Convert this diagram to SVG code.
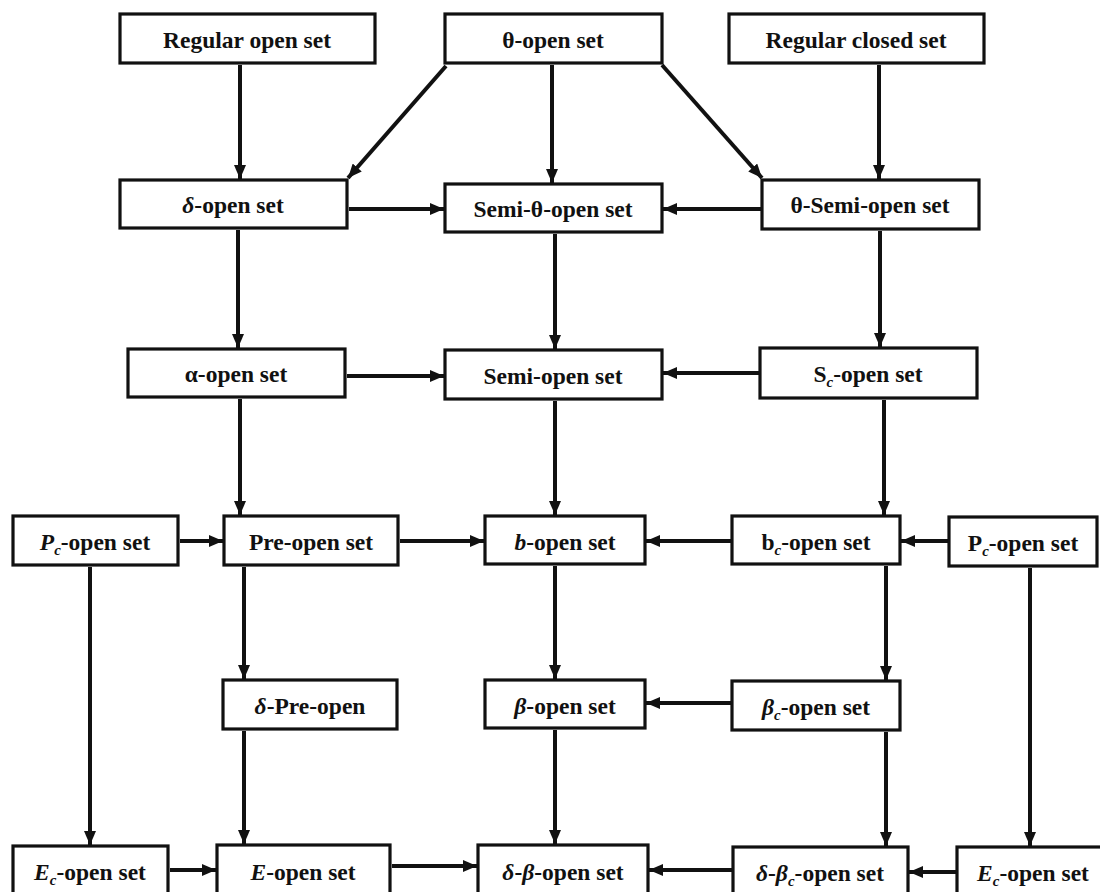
<svg xmlns="http://www.w3.org/2000/svg" width="1100" height="892" viewBox="0 0 1100 892">
<defs>
<style>
.box{fill:#fff;stroke:#111;stroke-width:3.2}
.lbl{font-family:"Liberation Serif","Times New Roman",serif;font-weight:bold;font-size:23.5px;fill:#111;text-anchor:middle}
.it{font-style:italic}
.sub{font-style:italic;font-size:15px}
.edge{stroke:#111;stroke-width:4;fill:none;marker-end:url(#ah)}
</style>
<marker id="ah" markerUnits="userSpaceOnUse" markerWidth="14" markerHeight="12" refX="14" refY="6" orient="auto">
<path d="M0,0 L14,6 L0,12 z" fill="#111"/>
</marker>
</defs>
<rect width="1100" height="892" fill="#fff"/>
<g id="connectors">
<line class="edge" x1="240" y1="65" x2="240" y2="179"/>
<line class="edge" x1="446" y1="66" x2="348" y2="178"/>
<line class="edge" x1="552" y1="65" x2="552" y2="183"/>
<line class="edge" x1="662" y1="65" x2="762" y2="178"/>
<line class="edge" x1="879" y1="65" x2="879" y2="179"/>
<line class="edge" x1="349" y1="209" x2="444" y2="209"/>
<line class="edge" x1="761" y1="209" x2="663" y2="209"/>
<line class="edge" x1="238" y1="230" x2="238" y2="348"/>
<line class="edge" x1="555" y1="234" x2="555" y2="349"/>
<line class="edge" x1="880" y1="231" x2="880" y2="347"/>
<line class="edge" x1="347" y1="376" x2="444" y2="376"/>
<line class="edge" x1="759" y1="373" x2="663" y2="373"/>
<line class="edge" x1="240" y1="399" x2="240" y2="515"/>
<line class="edge" x1="555" y1="401" x2="555" y2="515"/>
<line class="edge" x1="884" y1="400" x2="884" y2="515"/>
<line class="edge" x1="180" y1="541" x2="223" y2="541"/>
<line class="edge" x1="400" y1="541" x2="484" y2="541"/>
<line class="edge" x1="731" y1="541" x2="646" y2="541"/>
<line class="edge" x1="948" y1="541" x2="901" y2="541"/>
<line class="edge" x1="90" y1="567" x2="90" y2="845"/>
<line class="edge" x1="244" y1="567" x2="244" y2="679"/>
<line class="edge" x1="555" y1="566" x2="555" y2="679"/>
<line class="edge" x1="886" y1="566" x2="886" y2="680"/>
<line class="edge" x1="731" y1="703" x2="646" y2="703"/>
<line class="edge" x1="244" y1="731" x2="244" y2="844"/>
<line class="edge" x1="555" y1="730" x2="555" y2="844"/>
<line class="edge" x1="886" y1="732" x2="886" y2="846"/>
<line class="edge" x1="1030" y1="568" x2="1030" y2="846"/>
<line class="edge" x1="170" y1="870" x2="216" y2="870"/>
<line class="edge" x1="392" y1="866" x2="477" y2="866"/>
<line class="edge" x1="732" y1="870" x2="649" y2="870"/>
<line class="edge" x1="956" y1="872" x2="909" y2="872"/>
</g>
<g id="regOpen"><rect class="box" x="120" y="14" width="255" height="49"/><text class="lbl" x="247" y="48">Regular open set</text></g>
<g id="thetaOpen"><rect class="box" x="445" y="14" width="217" height="49"/><text class="lbl" x="553" y="48">θ-open set</text></g>
<g id="regClosed"><rect class="box" x="729" y="14" width="255" height="49"/><text class="lbl" x="856" y="48">Regular closed set</text></g>
<g id="deltaOpen"><rect class="box" x="120" y="180" width="227" height="48"/><text class="lbl" x="233" y="213"><tspan class="it">δ</tspan>-open set</text></g>
<g id="semiTheta"><rect class="box" x="445" y="184" width="217" height="48"/><text class="lbl" x="553" y="217">Semi-θ-open set</text></g>
<g id="thetaSemi"><rect class="box" x="762" y="180" width="217" height="49"/><text class="lbl" x="870" y="213">θ-Semi-open set</text></g>
<g id="alphaOpen"><rect class="box" x="128" y="349" width="217" height="48"/><text class="lbl" x="236" y="382">α-open set</text></g>
<g id="semiOpen"><rect class="box" x="445" y="350" width="217" height="49"/><text class="lbl" x="553" y="384">Semi-open set</text></g>
<g id="ScOpen"><rect class="box" x="760" y="348" width="217" height="50"/><text class="lbl" x="868" y="382">S<tspan class="sub" dy="5">c</tspan><tspan dy="-5">-open set</tspan></text></g>
<g id="PcLeft"><rect class="box" x="13" y="516" width="165" height="49"/><text class="lbl" x="95" y="550"><tspan class="it">P</tspan><tspan class="sub" dy="5">c</tspan><tspan dy="-5">-open set</tspan></text></g>
<g id="preOpen"><rect class="box" x="224" y="516" width="174" height="49"/><text class="lbl" x="311" y="550">Pre-open set</text></g>
<g id="bOpen"><rect class="box" x="485" y="516" width="160" height="48"/><text class="lbl" x="565" y="550"><tspan class="it">b</tspan>-open set</text></g>
<g id="bcOpen"><rect class="box" x="732" y="516" width="168" height="48"/><text class="lbl" x="816" y="550">b<tspan class="sub" dy="5">c</tspan><tspan dy="-5">-open set</tspan></text></g>
<g id="PcRight"><rect class="box" x="949" y="517" width="148" height="49"/><text class="lbl" x="1023" y="551">P<tspan class="sub" dy="5">c</tspan><tspan dy="-5">-open set</tspan></text></g>
<g id="deltaPre"><rect class="box" x="223" y="680" width="174" height="49"/><text class="lbl" x="310" y="714"><tspan class="it">δ</tspan>-Pre-open</text></g>
<g id="betaOpen"><rect class="box" x="485" y="680" width="160" height="48"/><text class="lbl" x="565" y="714"><tspan class="it">β</tspan>-open set</text></g>
<g id="betacOpen"><rect class="box" x="732" y="681" width="168" height="49"/><text class="lbl" x="816" y="715"><tspan class="it">β</tspan><tspan class="sub" dy="5">c</tspan><tspan dy="-5">-open set</tspan></text></g>
<g id="EcLeft"><rect class="box" x="13" y="846" width="155" height="50"/><text class="lbl" x="90" y="880"><tspan class="it">E</tspan><tspan class="sub" dy="5">c</tspan><tspan dy="-5">-open set</tspan></text></g>
<g id="EOpen"><rect class="box" x="217" y="845" width="173" height="50"/><text class="lbl" x="303" y="880"><tspan class="it">E</tspan>-open set</text></g>
<g id="deltaBeta"><rect class="box" x="478" y="845" width="170" height="50"/><text class="lbl" x="563" y="880"><tspan class="it">δ</tspan>-<tspan class="it">β</tspan>-open set</text></g>
<g id="deltaBetac"><rect class="box" x="733" y="847" width="175" height="50"/><text class="lbl" x="820" y="881"><tspan class="it">δ</tspan>-<tspan class="it">β</tspan><tspan class="sub" dy="5">c</tspan><tspan dy="-5">-open set</tspan></text></g>
<g id="EcRight"><rect class="box" x="957" y="847" width="153" height="50"/><text class="lbl" x="1033" y="881"><tspan class="it">E</tspan><tspan class="sub" dy="5">c</tspan><tspan dy="-5">-open set</tspan></text></g>
</svg>
